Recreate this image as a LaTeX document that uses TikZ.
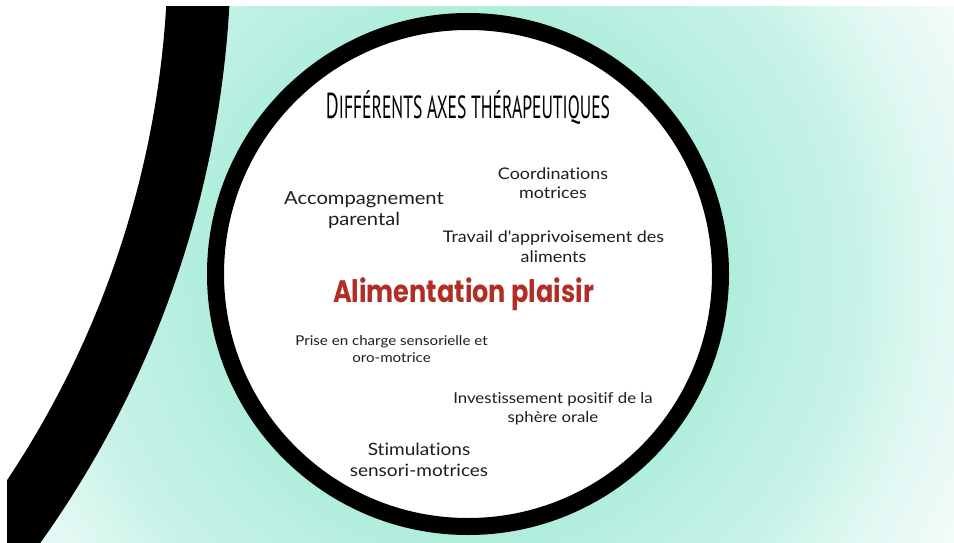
\documentclass[tikz,border=0pt]{standalone}
\usepackage{fontspec}
\usepackage{graphicx}
\newfontfamily\bodyfont{Lato}[FakeStretch=1.12, Ligatures={NoCommon,NoRare,NoContextual}]
\newfontfamily\titlefont{PT Sans}
\newfontfamily\handfont{Poppins}
\definecolor{mint}{RGB}{176,238,220}
\definecolor{mintA}{RGB}{186,239,226}
\definecolor{mintB}{RGB}{200,242,232}
\definecolor{mintC}{RGB}{212,246,237}
\definecolor{mintD}{RGB}{228,248,244}
\definecolor{mintE}{RGB}{242,251,249}
\definecolor{mintF}{RGB}{246,252,251}
\definecolor{bodygray}{RGB}{30,30,30}
\definecolor{brickred}{RGB}{176,46,38}
\pgfdeclareradialshading{bgshade}{\pgfpoint{0bp}{0bp}}{color(0bp)=(mint); color(10.9bp)=(mint); color(12.7bp)=(mintA); color(16.25bp)=(mintB); color(17.9bp)=(mintC); color(20.1bp)=(mintD); color(22.9bp)=(mintE); color(25bp)=(mintF); color(50bp)=(mintF)}
\tikzset{
  bodytxt/.style={inner sep=0pt, align=center, text=bodygray},
}
\begin{document}
\begin{tikzpicture}[x=1pt,y=-1pt]
\useasboundingbox (0,0) rectangle (954,543);
\fill[white] (0,0) rectangle (954,543);
\begin{scope}
  \clip (7,7) rectangle (954,543);
  \shade[shading=bgshade] (468,274) circle[radius=600];
  \filldraw[fill=white,draw=black,line width=63pt] (-795,-53) circle[radius=994.5];
\end{scope}
\filldraw[fill=white,draw=black,line width=17pt] (468,274) circle[radius=252.5];

\node[inner sep=0pt, anchor=base, text=black] (title) at (468,118)
  {\resizebox{284pt}{\height}{\titlefont{\fontsize{36}{36}\selectfont D}{\fontsize{32}{32}\selectfont IFFÉRENTS AXES THÉRAPEUTIQUES}}};

\node[inner sep=0pt, anchor=base, text=brickred] (plaisir) at (463.5,302)
  {\resizebox{261pt}{\height}{\handfont\bfseries\fontsize{31}{31}\selectfont Alimentation plaisir}};

\node[bodytxt, font=\bodyfont\fontsize{16}{19}\selectfont] (coord) at (553,183) {Coordinations\\motrices};
\node[bodytxt, font=\bodyfont\fontsize{18}{21}\selectfont] (accomp) at (364,210.5) {Accompagnement\\parental};
\node[bodytxt, font=\bodyfont\fontsize{16}{20}\selectfont] (travail) at (553.5,247) {Travail d'apprivoisement des\\aliments};
\node[bodytxt, font=\bodyfont\fontsize{13.5}{17}\selectfont] (prise) at (391.5,349) {Prise en charge sensorielle et\\oro-motrice};
\node[bodytxt, font=\bodyfont\fontsize{15}{19}\selectfont] (invest) at (553,409) {Investissement positif de la\\sphère orale};
\node[bodytxt, font=\bodyfont\fontsize{17}{21}\selectfont] (stim) at (419,460) {Stimulations\\sensori-motrices};
\end{tikzpicture}
\end{document}
